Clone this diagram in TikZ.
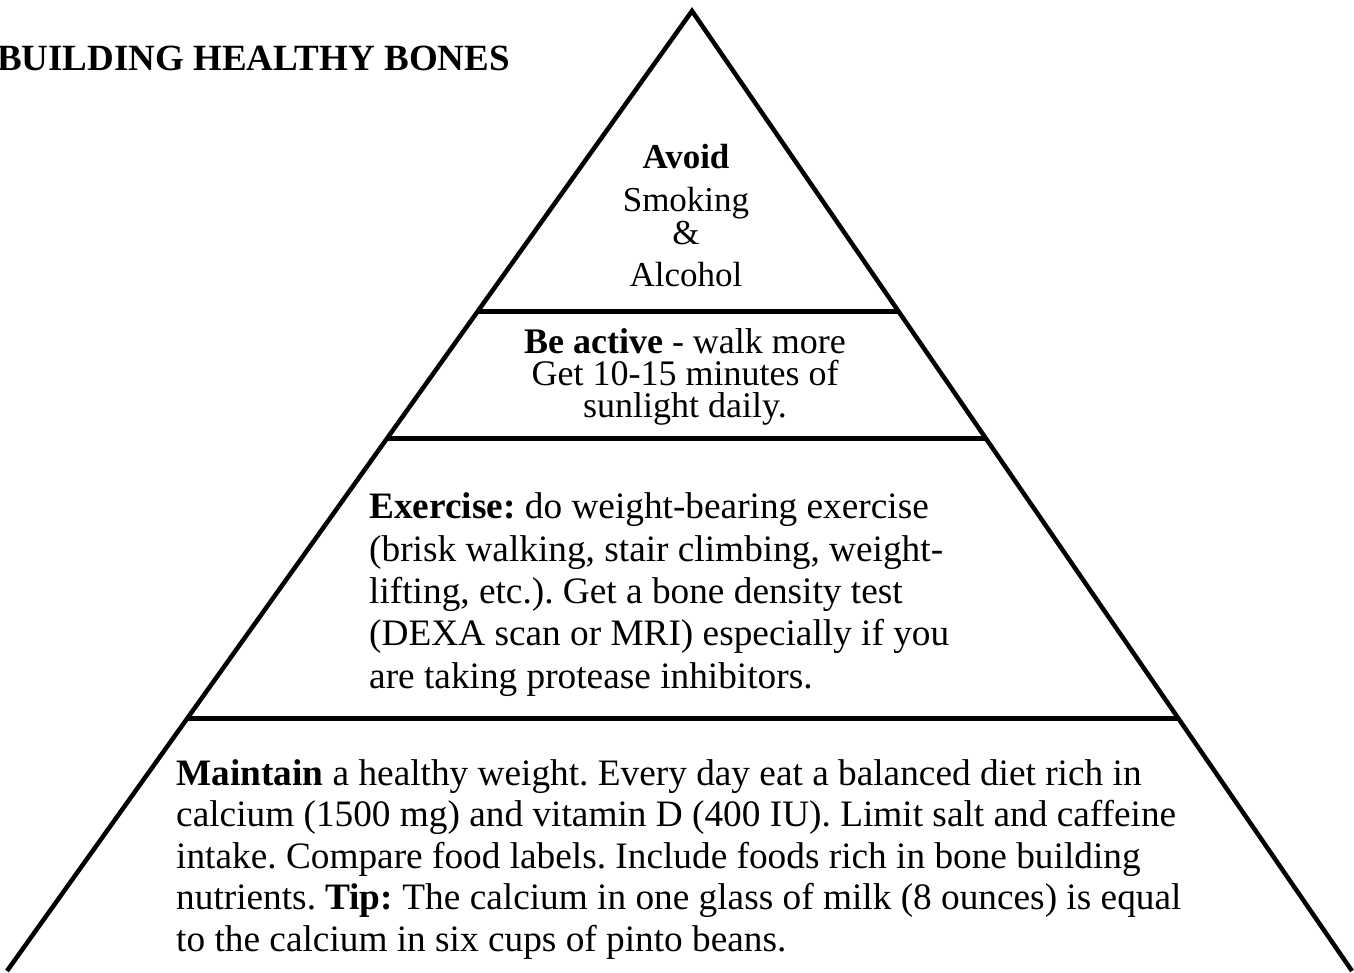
\documentclass[tikz,border=0pt]{standalone}
\usepackage{fontspec}
\setmainfont{Liberation Serif}[Ligatures={TeX,CommonOff}]
\usetikzlibrary{calc}
\frenchspacing

\begin{document}
\begin{tikzpicture}[x=1pt,y=-1pt,
  rule/.style={line width=4.5pt},
  tier/.style={inner sep=0pt,font=\fontsize{37.3}{42.3}\selectfont}]
  \useasboundingbox (0,0) rectangle (1354,973);
  % pyramid outline
  \coordinate (apex) at (692,11);
  \coordinate (baseL) at (7,971);
  \coordinate (baseR) at (1352,971);
  \draw[rule,line join=miter] (baseL) -- (apex) -- (baseR);
  % dividers between the tiers
  \coordinate (topL) at ($(apex)!0.3128!(baseL)$);
  \coordinate (topR) at ($(apex)!0.3128!(baseR)$);
  \coordinate (midL) at ($(apex)!0.4453!(baseL)$);
  \coordinate (midR) at ($(apex)!0.4453!(baseR)$);
  \coordinate (lowL) at ($(apex)!0.7372!(baseL)$);
  \coordinate (lowR) at ($(apex)!0.7372!(baseR)$);
  \draw[rule] (topL) -- (topR);
  \draw[rule] (midL) -- (midR);
  \draw[rule] (lowL) -- (lowR);
  % texts (multi-line nodes sit on their last baseline)
  \node[tier,anchor=base east,font=\fontsize{37}{42}\selectfont\bfseries] (title) at (510,71) {BUILDING HEALTHY BONES};
  \node[tier,anchor=base,align=center,font=\fontsize{35}{43}\selectfont] (avoid) at (686,287)
    {\textbf{Avoid}\\Smoking\\[-10pt]\&\\[-1pt]Alcohol};
  \node[tier,anchor=base,align=center,font=\fontsize{36}{32}\selectfont] (active) at (685,417)
    {\textbf{Be active} - walk more\\Get 10-15 minutes of\\sunlight daily.};
  \node[tier,anchor=base west,align=left] (exercise) at (369,688)
    {\textbf{Exercise:} do weight-bearing exercise\\(brisk walking, stair climbing, weight-\\lifting, etc.). Get a bone density test\\(DEXA scan or MRI) especially if you\\are taking protease inhibitors.};
  \node[tier,anchor=base west,align=left,font=\fontsize{37.3}{41.5}\selectfont] (maintain) at (176,951)
    {\textbf{Maintain} a healthy weight. Every day eat a balanced diet rich in\\calcium (1500 mg) and vitamin D (400 IU). Limit salt and caffeine\\intake. Compare food labels. Include foods rich in bone building\\nutrients. \textbf{Tip:} The calcium in one glass of milk (8 ounces) is equal\\to the calcium in six cups of pinto beans.};
\end{tikzpicture}
\end{document}
